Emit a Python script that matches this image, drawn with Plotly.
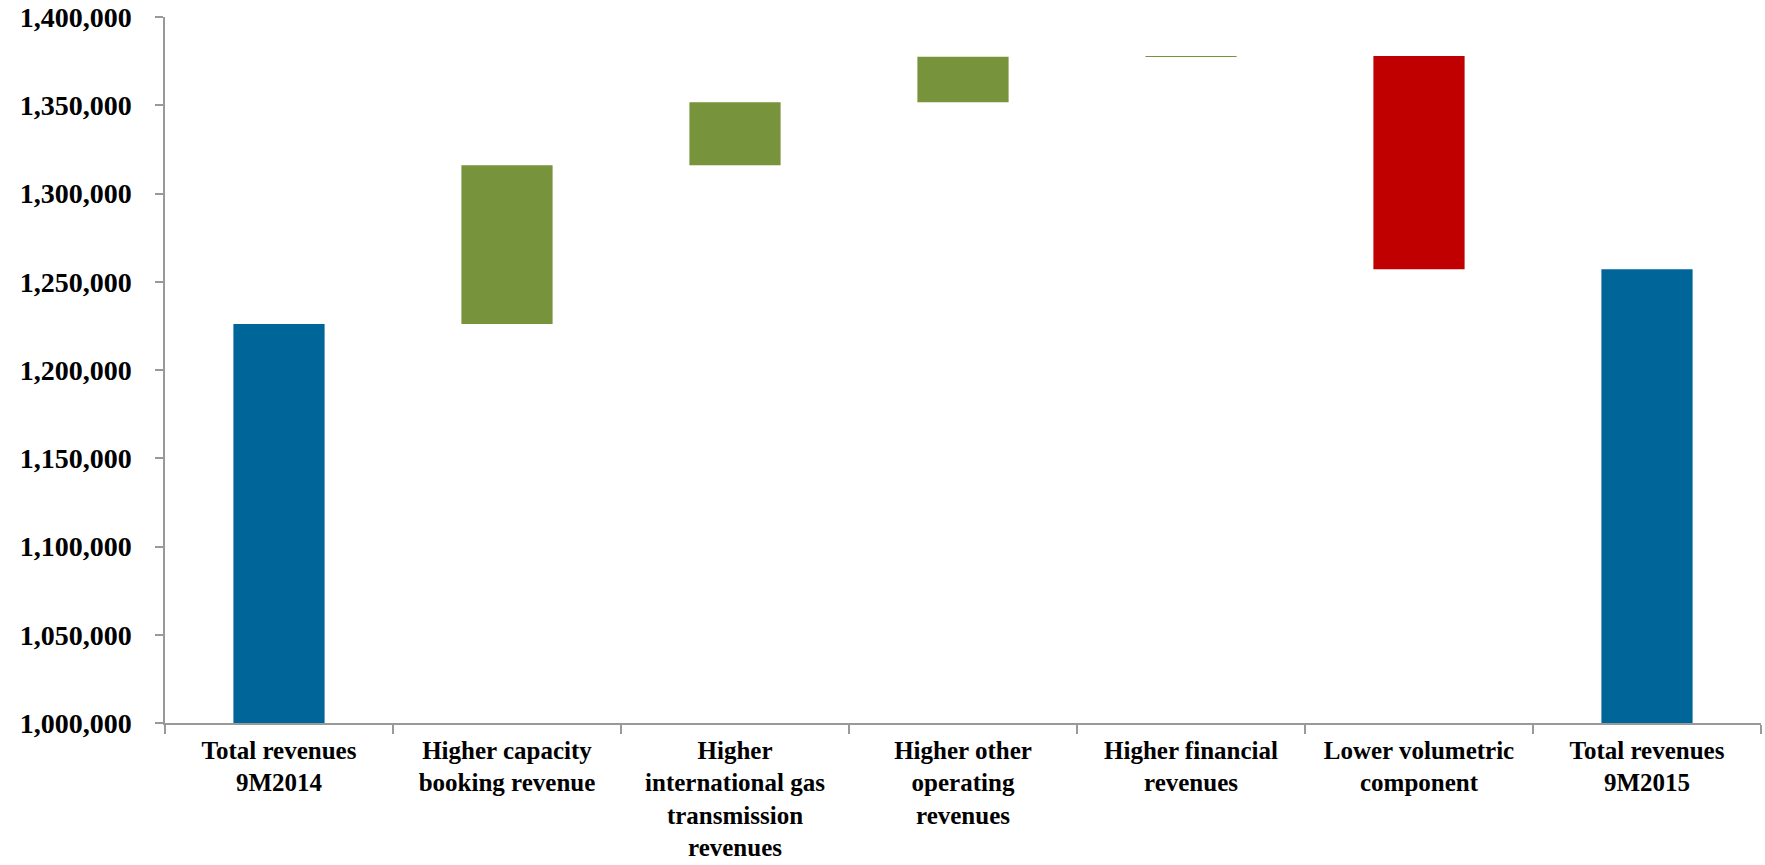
import plotly.graph_objects as go

categories = [
    "Total revenues<br>9M2014",
    "Higher capacity<br>booking revenue",
    "Higher<br>international gas<br>transmission<br>revenues",
    "Higher other<br>operating<br>revenues",
    "Higher financial<br>revenues",
    "Lower volumetric<br>component",
    "Total revenues<br>9M2015",
]
values = [1226100, 89900, 35700, 25800, 400, -120800, 0]
measures = ["absolute", "relative", "relative", "relative", "relative", "relative", "total"]

tick_vals = [1000000, 1050000, 1100000, 1150000, 1200000, 1250000, 1300000, 1350000, 1400000]

fig = go.Figure(go.Waterfall(
    x=categories,
    y=values,
    measure=measures,
    width=0.4,
    increasing=dict(marker=dict(color="#77933C", line=dict(width=0))),
    decreasing=dict(marker=dict(color="#C00000", line=dict(width=0))),
    totals=dict(marker=dict(color="#006699", line=dict(width=0))),
    connector=dict(visible=False),
    showlegend=False,
    hoverinfo="x+y",
))

fig.update_layout(
    width=1765, height=865,
    margin=dict(l=165, r=4, t=17, b=142, autoexpand=False),
    paper_bgcolor="white", plot_bgcolor="white",
    font=dict(family="Liberation Serif", size=25, color="#000000", weight="bold"),
)
fig.update_xaxes(
    type="category",
    automargin=False,
    showline=True, linecolor="#999999", linewidth=1.5,
    ticks="outside", tickson="boundaries", ticklen=9, tickcolor="#999999", tickwidth=1.5,
    showgrid=False,
    tickfont=dict(family="Liberation Serif", size=25, weight="bold", color="#000000"),
    ticklabelstandoff=4,
)
fig.update_yaxes(
    automargin=False,
    range=[1000000, 1400000],
    tickvals=tick_vals,
    tickformat=",d",
    showline=True, linecolor="#999999", linewidth=1.5,
    ticks="outside", ticklen=8, tickcolor="#999999", tickwidth=1.5,
    showgrid=False, zeroline=False,
    tickfont=dict(family="Liberation Serif", size=28, weight="bold", color="#000000"),
    ticklabelstandoff=18,
)

fig.write_html("out.html")
